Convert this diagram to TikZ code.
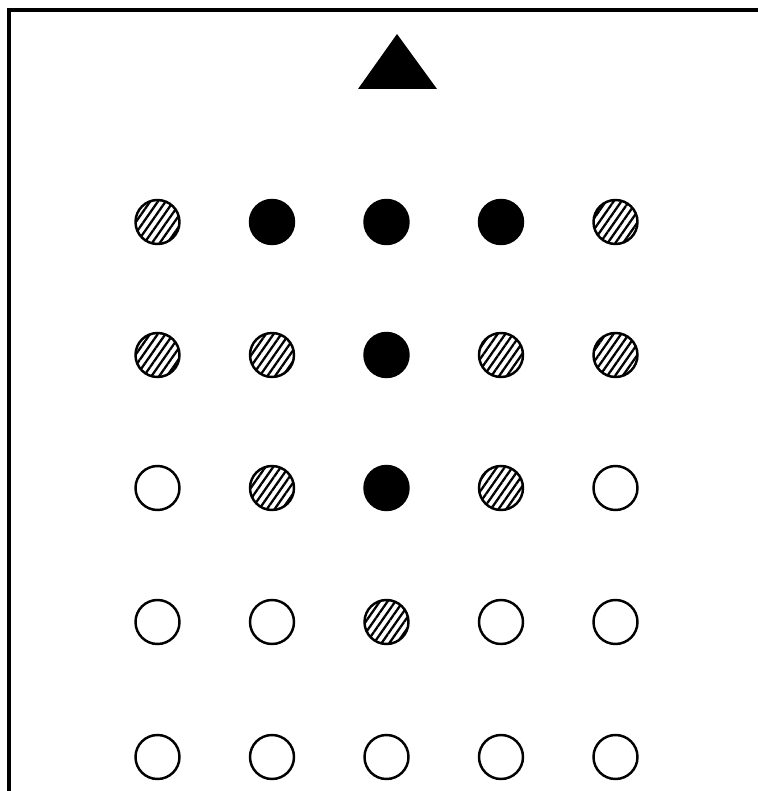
\documentclass[tikz,border=0pt]{standalone}
\usetikzlibrary{patterns.meta}
\tikzset{
  dotopen/.style={circle, draw=black, line width=1.4pt, minimum size=0.88cm, inner sep=0pt},
  dotfull/.style={dotopen, fill=black},
  dothatch/.style={dotopen, pattern={Lines[angle=55, distance=3.6pt, line width=1.3pt]}},
}
\begin{document}
\begin{tikzpicture}
  \useasboundingbox (0,0) rectangle (15.16,-15.82);
  % frame
  \draw[line width=2.3pt] (0.18,-15.82) -- (0.18,-0.2) -- (15.16,-0.2);

  % triangle
  \fill (7.94,-0.68) -- (7.16,-1.78) -- (8.74,-1.78) -- cycle;

  % rows of dots
  \foreach \k [count=\c] in {dothatch,dotfull,dotfull,dotfull,dothatch}
    \node[\k] (a\c) at (0.86+\c*2.29, -4.44) {};
  \foreach \k [count=\c] in {dothatch,dothatch,dotfull,dothatch,dothatch}
    \node[\k] (b\c) at (0.86+\c*2.29, -7.10) {};
  \foreach \k [count=\c] in {dotopen,dothatch,dotfull,dothatch,dotopen}
    \node[\k] (c\c) at (0.86+\c*2.29, -9.76) {};
  \foreach \k [count=\c] in {dotopen,dotopen,dothatch,dotopen,dotopen}
    \node[\k] (d\c) at (0.86+\c*2.29, -12.44) {};
  \foreach \k [count=\c] in {dotopen,dotopen,dotopen,dotopen,dotopen}
    \node[\k] (e\c) at (0.86+\c*2.29, -15.14) {};
\end{tikzpicture}
\end{document}
